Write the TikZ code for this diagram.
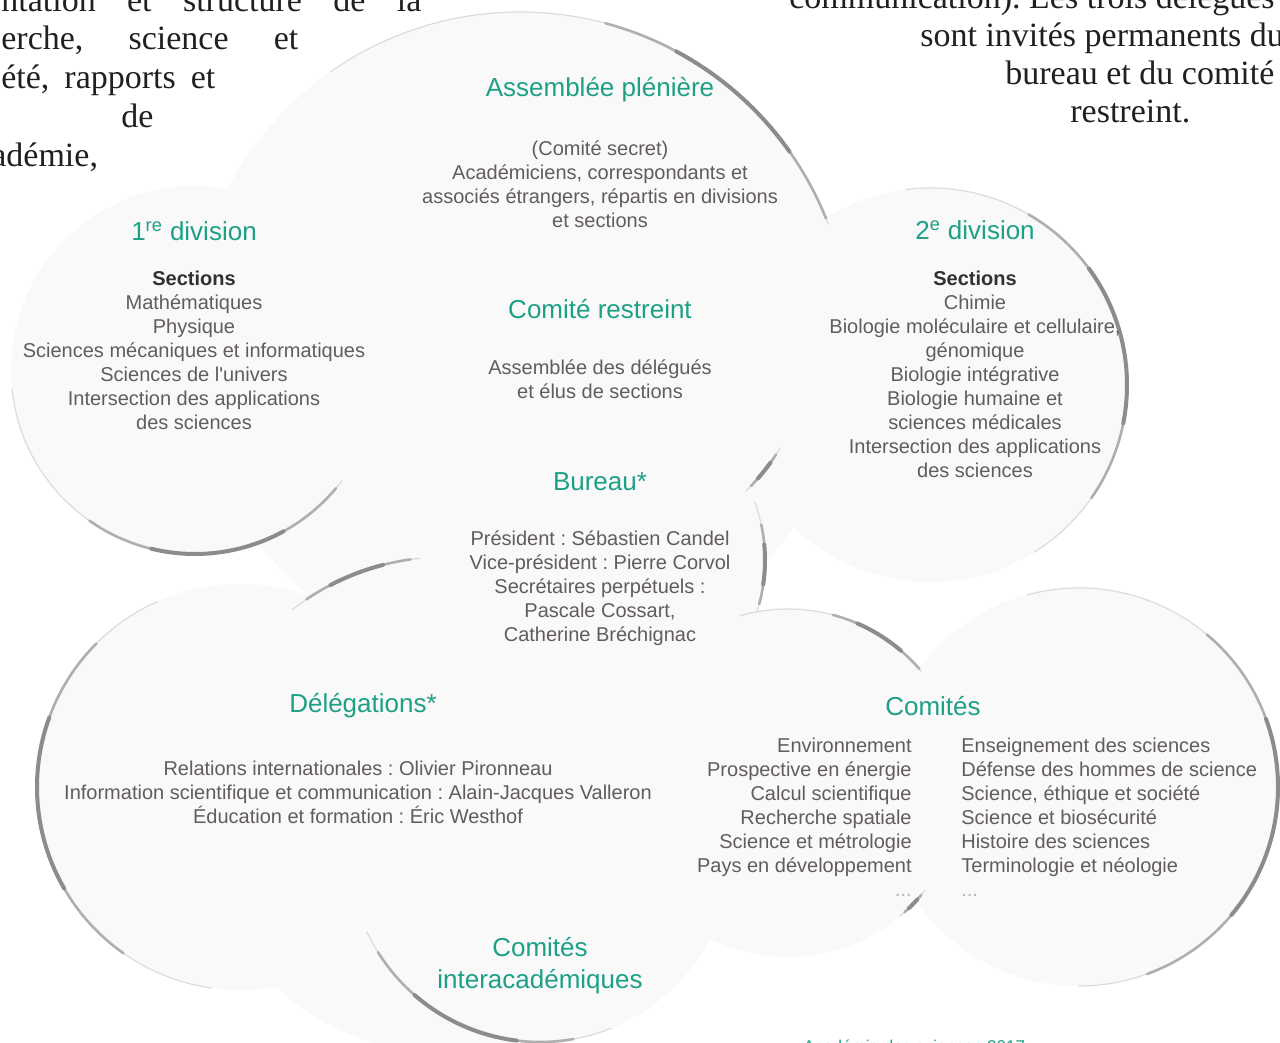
\documentclass[tikz,border=0pt]{standalone}
\usepackage{fontspec}
\setmainfont{Liberation Serif}
\setsansfont{Liberation Sans}
\usepackage{xcolor}
\frenchspacing

\definecolor{titlegreen}{RGB}{28,160,134}
\definecolor{bodygrey}{RGB}{98,92,92}
\definecolor{headgrey}{RGB}{50,48,48}
\definecolor{pageink}{RGB}{35,31,32}
\definecolor{arcgrey}{RGB}{140,140,140}
\definecolor{faintgrey}{RGB}{220,220,220}
\definecolor{discfill}{RGB}{249,249,249}

\newlength\pxu
\setlength\pxu{0.02cm}
\newcommand\grptitlefont{\sffamily\fontsize{14.8}{18.2}\selectfont}
\newcommand\grpbodyfont{\sffamily\fontsize{11.38}{13.66}\selectfont}
\newcommand\pagebodyfont{\rmfamily\fontsize{19.35}{21.6}\selectfont}
\newcommand\creditfont{\sffamily\fontsize{9.7}{11}\selectfont}

\tikzset{
  disc/.style={fill=discfill},
  faintarc/.style={draw=faintgrey, line width=1.2\pxu, line cap=round},
  midarc/.style={draw=arcgrey!70, line width=2.6\pxu, line cap=round},
  thickarc/.style={draw=arcgrey, line width=4\pxu, line cap=round},
  grptitle/.style={font=\grptitlefont, text=titlegreen, inner sep=0pt},
  grpbody/.style={font=\grpbodyfont, text=bodygrey, align=center, inner sep=0pt},
  pagetext/.style={font=\pagebodyfont, text=pageink, inner sep=0pt, anchor=base west},
  credit/.style={font=\creditfont, text=titlegreen, inner sep=0pt, anchor=base west}
}

% centre x, centre y, radius, faint from/to, dark from/to (angles as seen)
\newcommand{\shadowarc}[7]{%
  \pgfmathsetmacro\arcfa{-(#4)}
  \pgfmathsetmacro\arcfb{-(#5)}
  \pgfmathsetmacro\arcma{-(#6)}
  \pgfmathsetmacro\arcmb{-(#7)}
  \pgfmathsetmacro\arcin{-((#6)+0.25*((#7)-(#6)))}
  \pgfmathsetmacro\arcout{-((#7)-0.25*((#7)-(#6)))}
  \draw[faintarc] (#1,#2) ++(\arcfa:#3) arc[start angle=\arcfa, end angle=\arcfb, radius=#3];
  \draw[midarc] (#1,#2) ++(\arcma:#3) arc[start angle=\arcma, end angle=\arcmb, radius=#3];
  \draw[thickarc] (#1,#2) ++(\arcin:#3) arc[start angle=\arcin, end angle=\arcout, radius=#3];
}

\begin{document}
\begin{tikzpicture}[x=0.02cm, y=-0.02cm]
  \clip (0,0) rectangle (1280,1043);
  \fill[white] (0,0) rectangle (1280,1043);

  \fill[disc] (520,342) circle[radius=330];
  \fill[disc] (195,370) circle[radius=184];
  \fill[disc] (930,385) circle[radius=197];
  \fill[disc] (600,340) circle[radius=210];
  \fill[disc] (595,560) circle[radius=170];
  \fill[disc] (445,805) circle[radius=248];
  \fill[disc] (240,787) circle[radius=203];
  \fill[disc] (540,851) circle[radius=191];
  \fill[disc] (788,783) circle[radius=174];
  \fill[disc] (1079,787) circle[radius=199];

  \shadowarc{520}{342}{330}{125}{21}{75}{22}
  \shadowarc{195}{370}{184}{186}{323}{235}{320}
  \shadowarc{930}{385}{197}{97}{-58}{60}{-35}
  \shadowarc{600}{340}{210}{-46}{-31}{-44}{-33}
  \shadowarc{595}{560}{170}{20}{-18}{12}{-15}
  \shadowarc{445}{805}{248}{128}{96}{124}{98}
  \shadowarc{240}{787}{203}{114}{262}{135}{235}
  \shadowarc{540}{851}{191}{205}{292}{212}{280}
  \shadowarc{788}{783}{174}{106}{40}{75}{41}
  \shadowarc{788}{783}{174}{-38}{-50}{-40}{-48}
  \shadowarc{1079}{787}{199}{105}{-90}{50}{-70}

  \node[pagetext] (pgL1) at (1,12) {\makebox[420\pxu][s]{ntation et structure de la}};
  \node[pagetext] (pgL2) at (1,50) {\makebox[297\pxu][s]{erche, science et}};
  \node[pagetext] (pgL3) at (1,89) {\makebox[214\pxu][s]{été, rapports et}};
  \node[pagetext] (pgL4) at (121,128) {de};
  \node[pagetext] (pgL5) at (-9,167) {adémie,};
  \node[pagetext] (pgR1) at (789,9) {communication). Les trois délégués};
  \node[pagetext] (pgR2) at (920,47) {sont invités permanents du};
  \node[pagetext] (pgR3) at (1005,85) {bureau et du comité};
  \node[pagetext] (pgR4) at (1070,123) {restreint.};

  \node[grptitle] (asstitle) at (600,90) {Assemblée plénière};
  \node[grpbody] (assbody) at (600,184) {(Comité secret)\\Académiciens, correspondants et\\associés étrangers, répartis en divisions\\et sections};
  \node[grptitle] (crtitle) at (600,309) {Comité restreint};
  \node[grpbody] (crbody) at (600,379) {Assemblée des délégués\\et élus de sections};
  \node[grptitle] (burtitle) at (600,482) {Bureau*};
  \node[grpbody] (burbody) at (600,588) {Président : Sébastien Candel\\Vice-président : Pierre Corvol\\Secrétaires perpétuels :\\Pascale Cossart,\\Catherine Bréchignac};
  \node[grptitle] (div1title) at (194,231) {1\textsuperscript{re} division};
  \node[grpbody] (div1body) at (194,350) {\textcolor{headgrey}{\bfseries Sections}\\Mathématiques\\Physique\\Sciences mécaniques et informatiques\\Sciences de l\textquotesingle univers\\Intersection des applications\\des sciences};
  \node[grptitle] (div2title) at (975,230) {2\textsuperscript{e} division};
  \node[grpbody] (div2body) at (975,374) {\textcolor{headgrey}{\bfseries Sections}\\Chimie\\Biologie moléculaire et cellulaire,\\génomique\\Biologie intégrative\\Biologie humaine et\\sciences médicales\\Intersection des applications\\des sciences};
  \node[grptitle] (deltitle) at (363,706) {Délégations*};
  \node[grpbody] (delbody) at (358,792) {Relations internationales : Olivier Pironneau\\Information scientifique et communication : Alain-Jacques Valleron\\Éducation et formation : Éric Westhof};
  \node[grptitle] (comtitle) at (933,706) {Comités};
  \node[grpbody, align=right, anchor=east] (comleft) at (912,817) {Environnement\\Prospective en énergie\\Calcul scientifique\\Recherche spatiale\\Science et métrologie\\Pays en développement\\\textcolor{bodygrey!45}{...}};
  \node[grpbody, align=left, anchor=west] (comright) at (961,817) {Enseignement des sciences\\Défense des hommes de science\\Science, éthique et société\\Science et biosécurité\\Histoire des sciences\\Terminologie et néologie\\\textcolor{bodygrey!45}{...}};
  \node[grptitle, align=center] (intertitle) at (540,966) {Comités\\interacadémiques};
  \node[credit] (credit) at (803,1052) {Académie des sciences 2017};
\end{tikzpicture}
\end{document}
